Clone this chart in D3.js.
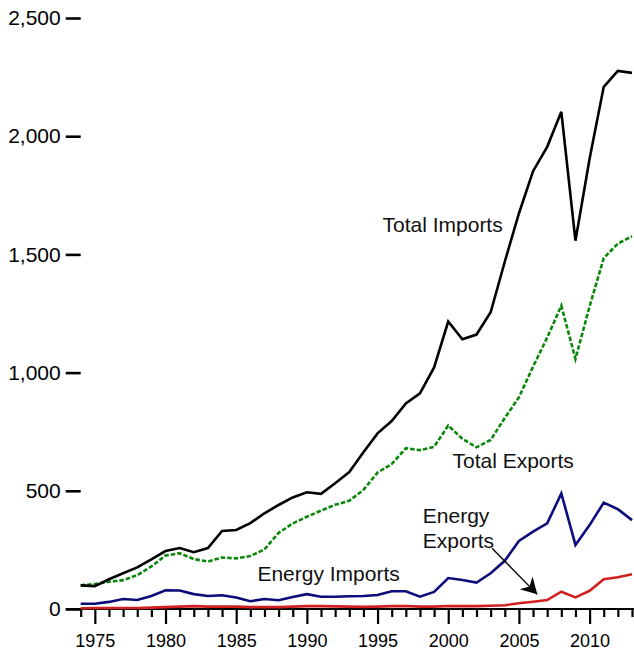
<!DOCTYPE html>
<html>
<head>
<meta charset="utf-8">
<script src="https://cdn.jsdelivr.net/npm/d3@7"></script>
<style>
  html, body { margin: 0; padding: 0; background: #fff; }
  svg { display: block; font-family: "Liberation Sans", Arial, sans-serif; }
</style>
</head>
<body>
<svg id="chart" width="634" height="654"></svg>
<script>
const years = [1974,1975,1976,1977,1978,1979,1980,1981,1982,1983,1984,1985,1986,1987,1988,1989,1990,1991,1992,1993,1994,1995,1996,1997,1998,1999,2000,2001,2002,2003,2004,2005,2006,2007,2008,2009,2010,2011,2012,2013];
const totalImports = [100,97,126,151,176,210,245,258,240,258,330,334,363,405,440,472,494,487,532,579,663,743,795,870,912,1022,1216,1141,1161,1255,1469,1673,1852,1955,2103,1558,1905,2209,2276,2268];
const totalExports = [100,106,115,122,143,180,226,236,211,201,218,214,224,252,322,362,390,416,441,458,504,577,613,680,672,686,776,720,684,715,808,895,1025,1148,1283,1058,1280,1484,1546,1577];
const energyImports = [22,22,30,42,38,55,79,78,63,55,58,49,33,42,37,51,63,52,52,54,55,59,75,75,52,72,131,123,112,151,204,288,327,362,489,271,355,450,422,376];
const energyExports = [3,4,4,4,4,6,8,10,12,10,10,10,8,8,8,10,12,12,11,10,9,10,12,13,10,10,13,12,12,14,16,24,31,38,73,49,77,126,134,147];
const yTicks = [0,500,1000,1500,2000,2500];
const majorYears = [1975,1980,1985,1990,1995,2000,2005,2010];
const labelNames = ["Total Imports","Total Exports","Energy Imports"];
const labelYears = [1995.35, 2000.3, 1986.5];
const labelValues = [1595, 596, 118];
const energyExportsLabel = ["Energy","Exports"];

const svg = d3.select("#chart");
const W = 634;
const x = d3.scaleLinear().domain([1974, 2013]).range([80.7, 632]);
const y = d3.scaleLinear().domain([0, 2500]).range([609, 18]);

// Y axis (ticks and labels only)
const yAxis = d3.axisLeft(y).tickValues(yTicks).tickSize(15).tickPadding(5).tickFormat(d3.format(","));
const gy = svg.append("g").attr("transform", `translate(${x.range()[0]},0)`).call(yAxis);
gy.select(".domain").remove();
gy.selectAll(".tick line").attr("stroke", "#000").attr("stroke-width", 2.6);
gy.selectAll(".tick text").attr("font-size", 21).attr("fill", "#000")
  .attr("font-family", "Liberation Sans, Arial, sans-serif");

// X axis
const xAxis = d3.axisBottom(x).tickValues(years).tickSize(8).tickFormat(d => majorYears.includes(d) ? d : "");
const gx = svg.append("g").attr("transform", `translate(0,${y(0)})`).call(xAxis);
gx.select(".domain").remove();
gx.selectAll(".tick line").attr("stroke", "#000").attr("stroke-width", 2.2)
  .attr("y2", d => majorYears.includes(d) ? 15 : 8);
gx.selectAll(".tick text").attr("font-size", 18).attr("fill", "#000")
  .attr("font-family", "Liberation Sans, Arial, sans-serif")
  .attr("y", 38).attr("dy", 0);
gx.append("line").attr("x1", x.range()[0] - 15).attr("x2", W).attr("y1", 0).attr("y2", 0)
  .attr("stroke", "#000").attr("stroke-width", 2.2);

// Lines
const line = d3.line().x((d, i) => x(years[i])).y(d => y(d));
const series = [
  {values: energyExports, color: "#d21f1f", dash: null},
  {values: energyImports, color: "#0c0c7a", dash: null},
  {values: totalExports, color: "#0b870b", dash: "4.5,2"},
  {values: totalImports, color: "#000000", dash: null}
];
svg.append("g").selectAll("path").data(series).join("path")
  .attr("d", d => line(d.values))
  .attr("fill", "none")
  .attr("stroke", d => d.color)
  .attr("stroke-width", 2.6)
  .attr("stroke-linejoin", "miter")
  .attr("stroke-dasharray", d => d.dash);

// Labels
const labels = svg.append("g").attr("font-size", 21).attr("fill", "#111");
labelNames.forEach((t, i) => {
  labels.append("text").attr("x", x(labelYears[i])).attr("y", y(labelValues[i])).text(t);
});
const eeText = labels.append("text").attr("x", x(1998.2)).attr("y", y(363));
energyExportsLabel.forEach((t, i) => {
  eeText.append("tspan").attr("x", x(1998.2)).attr("dy", i === 0 ? 0 : 25).text(t);
});

// Arrow
const defs = svg.append("defs");
defs.append("marker").attr("id", "arrowhead")
  .attr("viewBox", "-17 -10 18 20").attr("refX", 0).attr("refY", 0)
  .attr("markerWidth", 18).attr("markerHeight", 20).attr("markerUnits", "userSpaceOnUse")
  .attr("orient", "auto")
  .append("path").attr("d", "M0,0 L-16,-9 L-11,0 L-16,9 Z").attr("fill", "#000");
svg.append("line")
  .attr("x1", x(2003.1)).attr("y1", y(257))
  .attr("x2", x(2006.3)).attr("y2", y(62))
  .attr("stroke", "#000").attr("stroke-width", 1.3)
  .attr("marker-end", "url(#arrowhead)");
</script>
</body>
</html>
